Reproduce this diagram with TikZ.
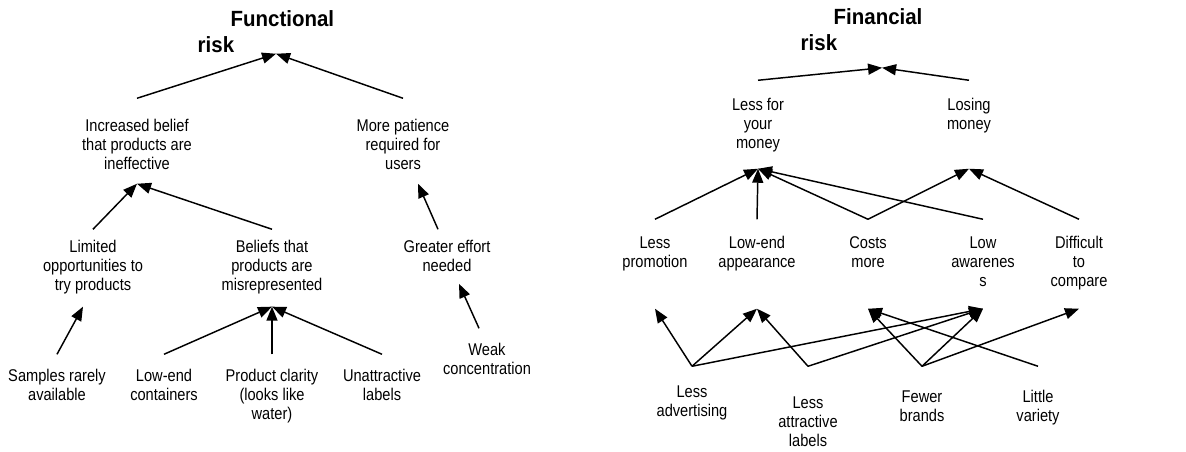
\documentclass[tikz,border=0pt]{standalone}
\usepackage{fontspec}
\setmainfont{Liberation Sans}[FakeStretch=0.86]
\newfontfamily\riskfamily{Liberation Sans}[FakeStretch=0.93]
\usetikzlibrary{arrows.meta}

\newcommand{\cuefont}{\fontsize{12.75pt}{14.6pt}\selectfont}
\newcommand{\riskfont}{\riskfamily\bfseries\fontsize{16.5pt}{19.5pt}\selectfont}

\tikzset{
  txt/.style={align=flush center, text width=104pt, inner sep=0pt, anchor=base, font=\cuefont},
  riskbox/.style={align=flush left, text width=110pt, inner sep=0pt, anchor=base west, font=\riskfont},
  rowb/.style={txt, text height=24pt, text depth=39pt},
  rowc/.style={txt, text height=7.9pt, inner ysep=8.6pt},
  rowe/.style={txt, text height=19.5pt},
  rowr/.style={txt, text height=21.75pt, text depth=43.5pt},
  rows/.style={txt, text height=21pt, text depth=45pt},
  rowt/.style={txt, text height=#1},
  rowt/.default=26.25pt
}

\begin{document}
\begin{tikzpicture}[x=0.75pt, y=-0.75pt, line width=1.1pt,
    >={Triangle[length=10.5pt,width=8.25pt]}]
  \useasboundingbox (0,0) rectangle (1186,451);

  % functional risk
  \node[riskbox, text depth=20.25pt] (fr) at (197,26) {\hspace*{24.75pt}Functional\\risk};
  \node[rowb] (inc) at (137,131) {Increased belief\\that products are\\ineffective};
  \node[rowb] (pat) at (403,131) {More patience\\required for\\users};
  \node[rowc] (lim) at (93,252) {Limited\\opportunities to\\try products};
  \node[rowc] (bel) at (272,252) {Beliefs that\\products are\\misrepresented};
  \node[rowc] (eff) at (447,252) {Greater effort\\needed};
  \node[rowe] (smp) at (57,381) {Samples rarely\\available};
  \node[rowe] (lec) at (164,381) {Low-end\\containers};
  \node[rowe] (pcl) at (272,381) {Product clarity\\(looks like\\water)};
  \node[rowe] (una) at (382,381) {Unattractive\\labels};
  \node[rowe] (wkc) at (487,355) {Weak\\concentration};

  \path[->]
    (inc.north) edge ([xshift=3.75pt]fr.south)
    (pat.north) edge ([xshift=3.75pt]fr.south)
    (lim.north) edge (inc.south)
    (bel.north) edge (inc.south)
    ([xshift=-6.75pt]eff.north) edge ([xshift=11.25pt]pat.south)
    (smp.north) edge ([xshift=-7.5pt]lim.south)
    (lec.north) edge (bel.south)
    (pcl.north) edge (bel.south)
    (una.north) edge (bel.south)
    ([xshift=-6pt]wkc.north) edge ([xshift=9pt]eff.south);

  % financial risk
  \node[riskbox, text depth=32.25pt] (nr) at (800,24) {\hspace*{24.75pt}Financial\\risk};
  \node[rowr] (lfm) at (758,110) {Less for\\your\\money};
  \node[rowr] (lsm) at (969,110) {Losing\\money};
  \node[rows] (lpr) at (655,248) {Less\\promotion};
  \node[rows] (lea) at (757,248) {Low-end\\appearance};
  \node[rows] (csm) at (868,248) {Costs\\more};
  \node[rows] (law) at (983,248) {Low\\awarenes\\s};
  \node[rows] (dtc) at (1079,248) {Difficult\\to\\compare};
  \node[rowt=22.5pt] (adv) at (692,397) {Less\\advertising};
  \node[rowt=30.75pt] (att) at (808,408) {Less\\attractive\\labels};
  \node[rowt] (few) at (922,402) {Fewer\\brands};
  \node[rowt] (lit) at (1038,402) {Little\\variety};

  \path[->]
    (lfm.north) edge ([xshift=6pt]nr.south)
    (lsm.north) edge ([xshift=6pt]nr.south)
    (lpr.north) edge (lfm.south)
    (lea.north) edge (lfm.south)
    (csm.north) edge (lfm.south)
                edge (lsm.south)
    (law.north) edge (lfm.south)
    (dtc.north) edge (lsm.south)
    (adv.north) edge (lpr.south)
                edge (lea.south)
                edge (law.south)
    (att.north) edge (lea.south)
                edge (law.south)
    (few.north) edge (csm.south)
                edge (law.south)
                edge (dtc.south)
    (lit.north) edge (csm.south);
\end{tikzpicture}
\end{document}
